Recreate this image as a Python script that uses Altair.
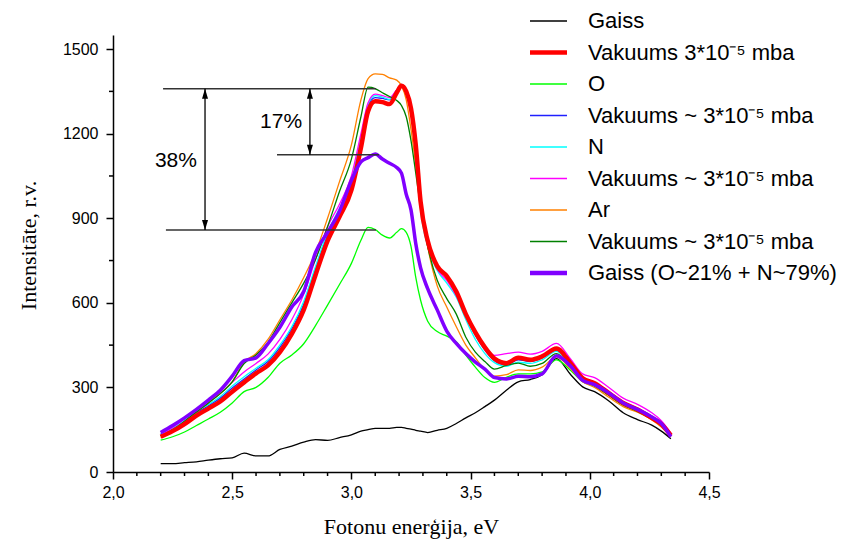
import json
import altair as alt
import pandas as pd

# ---------------- data ----------------
energy = [2.20, 2.25, 2.30, 2.35, 2.40, 2.45, 2.50, 2.55, 2.60, 2.65,
          2.70, 2.75, 2.80, 2.85, 2.90, 2.95, 3.00, 3.04, 3.07, 3.10,
          3.13, 3.16, 3.19, 3.21, 3.23, 3.25, 3.27, 3.29, 3.32, 3.36,
          3.40, 3.44, 3.48, 3.52, 3.56, 3.60, 3.65, 3.70, 3.75, 3.80,
          3.86, 3.92, 3.97, 4.02, 4.08, 4.14, 4.20, 4.26, 4.30, 4.34]

gaiss = [30, 30, 33, 36, 42, 47, 50, 67, 57, 57,
         80, 92, 106, 115, 112, 122, 132, 145, 150, 155,
         155, 155, 158, 158, 155, 152, 148, 145, 140, 148,
         155, 172, 192, 210, 232, 255, 290, 320, 328, 345,
         402, 345, 302, 285, 252, 210, 186, 166, 145, 118]

vak_red = [125, 145, 170, 200, 225, 250, 285, 318, 350, 378,
           425, 490, 575, 700, 820, 905, 1000, 1150, 1280, 1315,
           1312, 1305, 1345, 1370, 1350, 1290, 1160, 960, 820, 730,
           695, 640, 560, 495, 442, 402, 386, 405, 398, 410,
           438, 385, 333, 315, 280, 245, 222, 192, 170, 130]

oxygen = [113, 125, 142, 165, 188, 212, 245, 285, 300, 335,
          386, 415, 455, 520, 592, 665, 740, 822, 868, 860,
          840, 830, 850, 863, 850, 800, 690, 610, 535, 498,
          482, 462, 415, 372, 335, 318, 336, 348, 348, 355,
          398, 360, 320, 305, 272, 238, 215, 188, 165, 128]

vak_blue = [135, 152, 178, 210, 235, 262, 298, 330, 362, 392,
            442, 508, 595, 720, 840, 925, 1025, 1175, 1300, 1328,
            1325, 1320, 1355, 1375, 1350, 1285, 1150, 950, 810, 725,
            690, 640, 555, 485, 432, 395, 380, 398, 392, 405,
            432, 378, 328, 312, 278, 242, 220, 190, 168, 128]

nitrogen = [132, 155, 182, 215, 240, 268, 305, 338, 368, 398,
            450, 515, 605, 730, 850, 935, 1035, 1185, 1305, 1335,
            1330, 1322, 1350, 1365, 1340, 1270, 1130, 930, 800, 715,
            670, 620, 540, 470, 420, 388, 375, 390, 385, 398,
            428, 375, 330, 315, 282, 248, 225, 195, 172, 130]

vak_magenta = [130, 158, 188, 222, 250, 280, 318, 355, 385, 418,
               470, 540, 630, 755, 870, 950, 1050, 1200, 1310, 1340,
               1335, 1328, 1355, 1368, 1345, 1280, 1145, 950, 815, 720,
               680, 625, 555, 490, 445, 414, 420, 425, 418, 428,
               456, 400, 348, 335, 300, 262, 240, 210, 182, 138]

argon = [122, 148, 178, 212, 245, 278, 320, 390, 420, 470,
         540, 610, 690, 780, 900, 1030, 1160, 1320, 1395, 1412,
         1410, 1398, 1390, 1370, 1320, 1215, 1090, 960, 800, 660,
         585, 515, 450, 405, 362, 340, 345, 362, 360, 372,
         408, 365, 320, 300, 265, 232, 212, 185, 160, 125]

vak_dkgreen = [128, 150, 180, 213, 245, 278, 320, 385, 415, 460,
               530, 600, 670, 755, 870, 995, 1110, 1260, 1365, 1360,
               1345, 1332, 1318, 1300, 1260, 1175, 1060, 940, 800, 680,
               615, 560, 478, 425, 392, 365, 378, 386, 375, 385,
               420, 372, 325, 305, 272, 238, 215, 188, 165, 128]

gaiss_mix = [140, 165, 192, 222, 255, 290, 340, 395, 405, 455,
             513, 585, 640, 780, 850, 925, 1035, 1100, 1115, 1128,
             1110, 1095, 1080, 1060, 985, 930, 810, 725, 650, 575,
             500, 456, 420, 390, 365, 335, 330, 340, 338, 348,
             412, 375, 325, 310, 280, 245, 222, 195, 172, 125]

series_values = [gaiss, vak_red, oxygen, vak_blue, nitrogen,
                 vak_magenta, argon, vak_dkgreen, gaiss_mix]
keys = ["s1", "s2", "s3", "s4", "s5", "s6", "s7", "s8", "s9"]
labels = ["Gaiss", "Vakuums 3*10\u207b\u2075 mba", "O",
          "Vakuums ~ 3*10\u207b\u2075 mba", "N",
          "Vakuums ~ 3*10\u207b\u2075 mba", "Ar",
          "Vakuums ~ 3*10\u207b\u2075 mba", "Gaiss (O~21% + N~79%)"]
colors = ["#000000", "#FF0000", "#00FF00", "#2020FF", "#00FFFF",
          "#FF00FF", "#FF8000", "#008000", "#8000FF"]
thick_keys = ["s2", "s9"]

# annotation data
hline_e0 = [2.21, 2.688, 2.222]
hline_e1 = [3.103, 3.116, 3.103]
hline_i = [1359, 1125, 858]
arrow_e = [2.386, 2.826]
arrow_top = [1359, 1359]
arrow_bot = [858, 1125]
pct_text = ["38%", "17%"]
pct_e = [2.264, 2.705]
pct_i = [1104, 1243]

# axis ticks
x_major = [2.0, 2.5, 3.0, 3.5, 4.0, 4.5]
x_minor = [2.1, 2.2, 2.3, 2.4, 2.6, 2.7, 2.8, 2.9, 3.1, 3.2, 3.3, 3.4,
           3.6, 3.7, 3.8, 3.9, 4.1, 4.2, 4.3, 4.4]
y_major = [0, 300, 600, 900, 1200, 1500]
y_minor = [150, 450, 750, 1050, 1350]

# ---------------- tables ----------------
rows = []
for k, vals in zip(keys, series_values):
    for e, v in zip(energy, vals):
        rows.append({"E": e, "I": v, "key": k})
df = pd.DataFrame(rows)

hl = pd.DataFrame({"e0": hline_e0, "e1": hline_e1, "i": hline_i})
ar = pd.DataFrame({"e": arrow_e, "top": arrow_top, "bot": arrow_bot})
tx = pd.DataFrame({"t": pct_text, "e": pct_e, "i": pct_i})
mx = pd.DataFrame({"m": x_minor})
my = pd.DataFrame({"m": y_minor})

xscale = alt.Scale(domain=[2.0, 4.5], nice=False, zero=False)
yscale = alt.Scale(domain=[0, 1550], nice=False, zero=False)

x_axis = alt.Axis(
    values=x_major,
    labelExpr="replace(format(datum.value, '.1f'), '.', ',')",
    tickSize=7,
    title="Fotonu enerģija, eV", titleFont="Liberation Serif", titleFontSize=22,
    titleFontWeight="normal", titleColor="black", titleY=61, titleBaseline="alphabetic",
    labelFont="Liberation Sans", labelFontSize=16, labelColor="black", labelPadding=5,
    labelOverlap=False, labelFlush=False, grid=False,
    domainColor="black", domainWidth=1.5, tickColor="black", tickWidth=1.5,
)
y_axis = alt.Axis(
    values=y_major,
    labelExpr="'' + datum.value",
    tickSize=7,
    title="Intensitāte, r.v.", titleFont="Liberation Serif", titleFontSize=22,
    titleFontWeight="normal", titleColor="black", titleX=-78, titleY=210,
    titleAngle=270, titleBaseline="alphabetic",
    labelFont="Liberation Sans", labelFontSize=16, labelColor="black", labelPadding=8,
    labelOverlap=False, labelFlush=False, grid=False,
    domainColor="black", domainWidth=1.5, tickColor="black", tickWidth=1.5,
)

label_expr = ("[" + ",".join(json.dumps(l, ensure_ascii=False) for l in labels) + "]"
              + "[indexof(" + json.dumps(keys) + ", datum.value)]")
width_expr = "indexof(" + json.dumps(thick_keys) + ", datum.value) >= 0 ? 4.5 : 1.3"

legend = alt.Legend(
    orient="none", legendX=417, legendY=-27, title=None,
    symbolType="stroke", symbolSize=2704, symbolStrokeWidth={"expr": width_expr},
    labelFont="Liberation Sans", labelFontSize=22, labelColor="black",
    labelOffset=36, clipHeight=26, rowPadding=5.5, padding=0, labelLimit=400,
    labelExpr=label_expr,
)
color = alt.Color("key:N", scale=alt.Scale(domain=keys, range=colors), legend=legend)

base = alt.Chart(df)
thin = base.transform_filter(
    alt.FieldOneOfPredicate(field="key", oneOf=[k for k in keys if k not in thick_keys])
).mark_line(strokeWidth=1.3, interpolate="monotone").encode(
    x=alt.X("E:Q", scale=xscale, axis=x_axis),
    y=alt.Y("I:Q", scale=yscale, axis=y_axis),
    color=color,
    detail="key:N",
)
thick_red = base.transform_filter(alt.datum.key == "s2").mark_line(
    strokeWidth=4.5, interpolate="monotone").encode(
    x=alt.X("E:Q", scale=xscale),
    y=alt.Y("I:Q", scale=yscale),
    color=color,
)
thick_violet = base.transform_filter(alt.datum.key == "s9").mark_line(
    strokeWidth=3.5, interpolate="monotone").encode(
    x=alt.X("E:Q", scale=xscale),
    y=alt.Y("I:Q", scale=yscale),
    color=color,
)

minor_x = alt.Chart(mx).mark_rule(color="black", strokeWidth=1.5).encode(
    x=alt.X("m:Q", scale=xscale), y=alt.value(437), y2=alt.value(441),
)
minor_y = alt.Chart(my).mark_rule(color="black", strokeWidth=1.5).encode(
    y=alt.Y("m:Q", scale=yscale), x=alt.value(-4), x2=alt.value(0),
)

hrules = alt.Chart(hl).mark_rule(color="#333333", strokeWidth=1.5).encode(
    x=alt.X("e0:Q", scale=xscale), x2="e1:Q",
    y=alt.Y("i:Q", scale=yscale),
)
vrules = alt.Chart(ar).mark_rule(color="black", strokeWidth=1.3).encode(
    x=alt.X("e:Q", scale=xscale),
    y=alt.Y("top:Q", scale=yscale), y2="bot:Q",
)
head_top = alt.Chart(ar).mark_point(
    shape="M0,-1L-0.6,1L0.6,1Z", filled=True, color="black", opacity=1,
    size=100, yOffset=5).encode(
    x=alt.X("e:Q", scale=xscale),
    y=alt.Y("top:Q", scale=yscale),
)
head_bot = alt.Chart(ar).mark_point(
    shape="M0,1L-0.6,-1L0.6,-1Z", filled=True, color="black", opacity=1,
    size=100, yOffset=-5).encode(
    x=alt.X("e:Q", scale=xscale),
    y=alt.Y("bot:Q", scale=yscale),
)
texts = alt.Chart(tx).mark_text(
    font="Liberation Sans", fontSize=21, color="black", align="center",
    baseline="middle").encode(
    x=alt.X("e:Q", scale=xscale),
    y=alt.Y("i:Q", scale=yscale),
    text="t:N",
)

chart = alt.layer(
    thin, thick_red, thick_violet, minor_x, minor_y,
    hrules, vrules, head_top, head_bot, texts
).properties(
    width=596, height=437,
    autosize=alt.AutoSizeParams(type="none"),
    padding={"left": 113, "top": 35, "right": 149, "bottom": 69},
    background="white",
).configure_view(stroke=None)

chart.save("out.html", embed_options={"renderer": "svg", "actions": False})
